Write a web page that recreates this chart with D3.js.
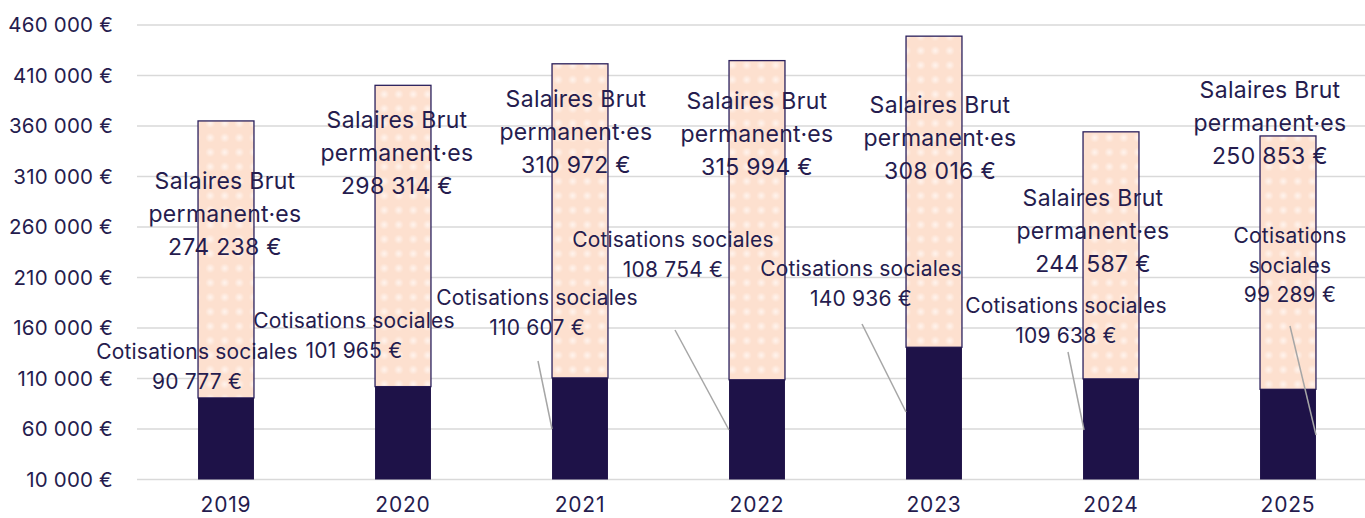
<!DOCTYPE html>
<html>
<head>
<meta charset="utf-8">
<script src="https://cdn.jsdelivr.net/npm/d3@7"></script>
<style>
  body { margin: 0; background: #fff; }
  text { font-family: "Inter", "Lato", sans-serif; fill: #251c4e; }
</style>
</head>
<body>
<svg id="drawing_region"></svg>
<script>
const years = ['2019', '2020', '2021', '2022', '2023', '2024', '2025'];
const cotisations = [90777, 101965, 110607, 108754, 140936, 109638, 99289];
const salaires = [274238, 298314, 310972, 315994, 308016, 244587, 250853];
const yticks = [10000, 60000, 110000, 160000, 210000, 260000, 310000, 360000, 410000, 460000];

// label layout: offsets from bar centre (dx) and absolute y of first line
const salLabelPos = [[-1, 181], [-6, 120], [-4, 99], [0, 101], [6, 105], [-18, 198], [-18, 90]];
const cotLabelPos = [[-29, 352], [-49, 321], [-43, 298], [-84, 240], [-73, 269], [-45, 306], [2, 236]];
// leader lines: [dx1, y1, dx2, y2] relative to bar centre, null = none
const leaders = [null, null, [-42, 361, -28, 429], [-82, 330, -28, 430], [-72, 324, -28, 412], [-43, 352, -27, 430], [2, 326, 28, 435]];

const fmt = v => d3.format(',')(v).replace(/,/g, ' ') + ' €';

const width = 1365, height = 518;
const svg = d3.select('#drawing_region').attr('width', width).attr('height', height);

const defs = svg.append('defs');
const grad = defs.append('radialGradient').attr('id', 'dotgrad');
grad.append('stop').attr('offset', '0%').attr('stop-color', '#fff4ee');
grad.append('stop').attr('offset', '100%').attr('stop-color', '#fde0cf');
const pat = defs.append('pattern').attr('id', 'dots')
    .attr('patternUnits', 'userSpaceOnUse').attr('width', 14.5).attr('height', 14.5);
pat.append('rect').attr('width', 14.5).attr('height', 14.5).attr('fill', '#fde0cf');
pat.append('circle').attr('cx', 7.25).attr('cy', 7.25).attr('r', 5).attr('fill', 'url(#dotgrad)');

const xscale = d3.scaleBand().domain(years).range([137.5, 1376.5]).paddingInner(0.684).paddingOuter(0.342);
const yscale = d3.scaleLinear().domain([10000, 460000]).range([479.5, 25]);

// grid
svg.append('g').selectAll('line').data(yticks).join('line')
    .attr('x1', 137).attr('x2', width)
    .attr('y1', d => yscale(d)).attr('y2', d => yscale(d))
    .attr('stroke', '#d9d9d9').attr('stroke-width', 1.5);

// y axis labels
const yaxis = d3.axisLeft(yscale).tickValues(yticks).tickSize(0).tickPadding(0).tickFormat(fmt);
svg.append('g').attr('transform', 'translate(113,0)').call(yaxis)
    .call(g => g.select('.domain').remove())
    .selectAll('text').attr('font-size', 20.5).attr('letter-spacing', 0.2)
    .attr('fill', '#251c4e').style('font-family', '"Inter", sans-serif');

// x axis labels
const xaxis = d3.axisBottom(xscale).tickSize(0).tickPadding(0);
svg.append('g').attr('transform', 'translate(0,497)').call(xaxis)
    .call(g => g.select('.domain').remove())
    .selectAll('text').attr('font-size', 21).attr('letter-spacing', 0.8)
    .attr('fill', '#251c4e').style('font-family', '"Inter", sans-serif');

// bars
const bars = svg.append('g');
bars.selectAll('rect.sal').data(years).join('rect').attr('class', 'sal')
    .attr('x', d => xscale(d))
    .attr('width', xscale.bandwidth())
    .attr('y', (d, i) => yscale(cotisations[i] + salaires[i]))
    .attr('height', (d, i) => yscale(cotisations[i]) - yscale(cotisations[i] + salaires[i]))
    .attr('fill', 'url(#dots)').attr('stroke', '#2a1f5c').attr('stroke-width', 1.3);
bars.selectAll('rect.cot').data(years).join('rect').attr('class', 'cot')
    .attr('x', d => xscale(d))
    .attr('width', xscale.bandwidth())
    .attr('y', (d, i) => yscale(cotisations[i]))
    .attr('height', (d, i) => yscale(10000) - yscale(cotisations[i]))
    .attr('fill', '#1e1248');

// leader lines
const cx = d => xscale(d) + xscale.bandwidth() / 2;
svg.append('g').selectAll('line').data(years.filter((d, i) => leaders[i]))
    .join('line')
    .each(function (d) {
        const l = leaders[years.indexOf(d)];
        d3.select(this).attr('x1', cx(d) + l[0]).attr('y1', l[1])
            .attr('x2', cx(d) + l[2]).attr('y2', l[3]);
    })
    .attr('stroke', '#a6a6a6').attr('stroke-width', 1.5);

// labels
const labels = svg.append('g');
years.forEach((d, i) => {
    const sl = ['Salaires Brut', 'permanent·es', fmt(salaires[i])];
    const st = labels.append('text').attr('text-anchor', 'middle').attr('font-size', 23).attr('letter-spacing', 0.3);
    sl.forEach((t, k) => st.append('tspan').attr('x', cx(d) + salLabelPos[i][0])
        .attr('y', salLabelPos[i][1] + k * 33 + 8).text(t));

    const cl = i === 6 ? ['Cotisations', 'sociales', fmt(cotisations[i])] : ['Cotisations sociales', fmt(cotisations[i])];
    const ct = labels.append('text').attr('text-anchor', 'middle').attr('font-size', 21).attr('letter-spacing', 0.2);
    cl.forEach((t, k) => ct.append('tspan').attr('x', cx(d) + cotLabelPos[i][0])
        .attr('y', cotLabelPos[i][1] + k * 29.5 + 7).text(t));
});
</script>
</body>
</html>
